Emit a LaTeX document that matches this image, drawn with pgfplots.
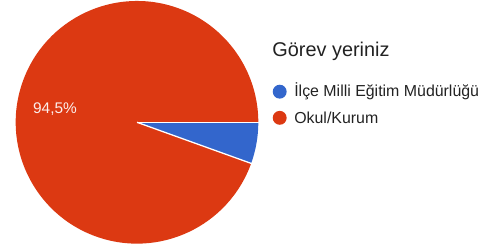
\documentclass[border=0pt]{standalone}
\usepackage{pgfplots}
\pgfplotsset{compat=1.18}
\usepackage{pgfplotstable}
\usepackage{fontspec}
\setmainfont{Liberation Sans}
\definecolor{gblue}{HTML}{3366CC}
\definecolor{gred}{HTML}{DC3912}
\definecolor{gtext}{HTML}{222222}
\pgfplotstableread{
label value
ilce 5.5
okul 94.5
}\pietable
\begin{document}
\pgfplotstablegetelem{0}{value}\of\pietable
\pgfmathsetmacro\aA{-3.6*\pgfplotsretval}
\begin{tikzpicture}
\begin{axis}[name=ax,width=491pt,height=253pt,scale only axis,
  xmin=0,xmax=491,ymin=0,ymax=253,hide axis,clip=false]
\addplot[draw=none,mark=none] coordinates {(0,0) (491,253)};
\fill[gblue] (axis cs:135,130) -- ++(0:122pt) arc[start angle=0,end angle=\aA,radius=122pt] -- cycle;
\fill[gred] (axis cs:135,130) -- ++(\aA:122pt) arc[start angle=\aA,end angle=-360,radius=122pt] -- cycle;
\draw[white,line width=1.3pt] (axis cs:135,130) -- ++(0:123pt);
\draw[white,line width=1.3pt] (axis cs:135,130) -- ++(\aA:123pt);
\node[anchor=base,text=white!92!gred,font=\fontsize{15.5}{18}\selectfont,inner sep=0pt] at (axis cs:52.5,139) {94,5\%};
\node[anchor=base west,text=gtext,font=\fontsize{20}{24}\selectfont,inner sep=0pt] at (axis cs:271,195.7) {Görev yeriniz};
\fill[gblue] (axis cs:278.5,160.8) circle (7pt);
\fill[gred] (axis cs:278.5,134.5) circle (7pt);
\node[anchor=base west,text=gtext,font=\fontsize{16}{19}\selectfont,inner sep=0pt] at (axis cs:293,156) {İlçe Milli Eğitim Müdürlüğü};
\node[anchor=base west,text=gtext,font=\fontsize{16}{19}\selectfont,inner sep=0pt] at (axis cs:293,128.5) {Okul/Kurum};
\end{axis}
\pgfresetboundingbox
\path (ax.south west) rectangle (ax.north east);
\end{tikzpicture}
\end{document}
